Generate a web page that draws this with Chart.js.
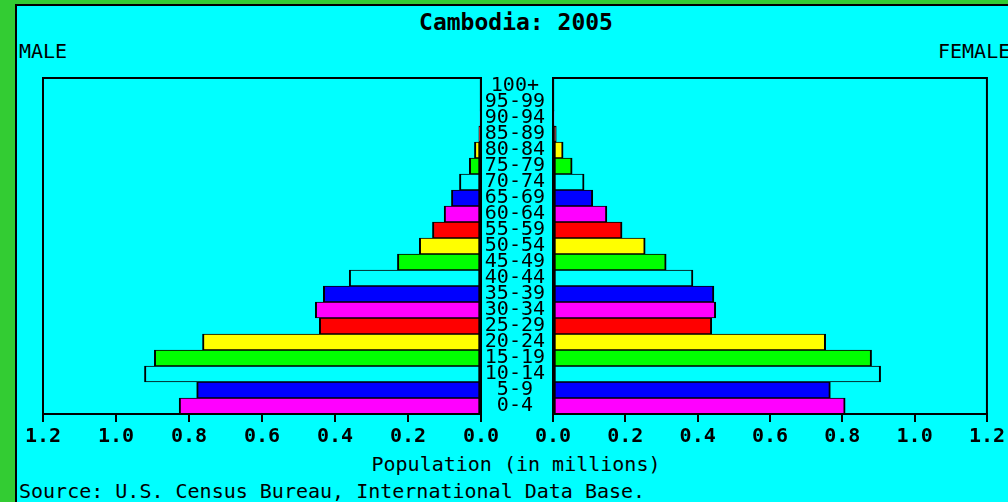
<!DOCTYPE html>
<html>
<head>
<meta charset="utf-8">
<script src="https://cdn.jsdelivr.net/npm/chart.js@4"></script>
<style>
  body { margin: 0; width: 1008px; height: 502px; background: #33cc33; overflow: hidden; position: relative; font-family: "DejaVu Sans Mono", monospace; }
  #panel { position: absolute; left: 15px; top: 4px; width: 993px; height: 498px; background: #00ffff; border-left: 2px solid #000; border-top: 2px solid #000; }
  .txt { position: absolute; color: #000; font-size: 20px; line-height: 20px; white-space: nowrap; }
  canvas { position: absolute; }
</style>
</head>
<body>
<div id="panel"></div>
<div class="txt" style="left:0;width:1032px;top:11px;text-align:center;font-size:23px;line-height:23px;font-weight:bold;">Cambodia: 2005</div>
<div class="txt" style="left:19px;top:41px;">MALE</div>
<div class="txt" style="left:938px;top:41px;">FEMALE</div>
<div class="txt" style="left:0;width:1032px;top:454px;text-align:center;">Population (in millions)</div>
<div class="txt" style="left:19px;top:481px;">Source: U.S. Census Bureau, International Data Base.</div>
<canvas id="maleChart" width="490" height="400" style="left:13px;top:70px;"></canvas>
<canvas id="femaleChart" width="526" height="412" style="left:482px;top:58px;"></canvas>
<script>
// age groups, youngest first (drawn bottom-up)
const ageGroups = ['0-4', '5-9', '10-14', '15-19', '20-24', '25-29', '30-34', '35-39', '40-44', '45-49',
    '50-54', '55-59', '60-64', '65-69', '70-74', '75-79', '80-84', '85-89', '90-94', '95-99', '100+'];

// population in millions
const maleValues = [0.827, 0.779, 0.922, 0.895, 0.763, 0.443, 0.454, 0.432, 0.361, 0.229,
    0.169, 0.133, 0.101, 0.081, 0.059, 0.032, 0.018, 0.006, 0.002, 0.001, 0.0003];
const femaleValues = [0.808, 0.767, 0.906, 0.881, 0.754, 0.439, 0.450, 0.445, 0.387, 0.313,
    0.255, 0.191, 0.149, 0.110, 0.086, 0.053, 0.028, 0.009, 0.003, 0.001, 0.0003];

const xTicks = [0, 0.2, 0.4, 0.6, 0.8, 1.0, 1.2];

const palette = ['#ff00ff', '#0000ff', '#00ffff', '#00ff00', '#ffff00', '#ff0000'];
const barColors = ageGroups.map((a, i) => palette[i % palette.length]);

const monoFont = 'DejaVu Sans Mono';

// draws the black box around each plot area
const framePlugin = {
    id: 'frame',
    afterDatasetsDraw(chart) {
        const a = chart.chartArea;
        const ctx = chart.ctx;
        ctx.save();
        ctx.strokeStyle = '#000';
        ctx.lineWidth = 2;
        ctx.strokeRect(a.left, a.top, a.right - a.left, a.bottom - a.top);
        ctx.restore();
    }
};

function xScale(reverse) {
    return {
        type: 'linear',
        reverse: reverse,
        min: 0,
        max: 1.2,
        afterBuildTicks: s => { s.ticks = xTicks.map(v => ({ value: v })); },
        afterFit: s => { s.height = 56; },
        ticks: {
            color: '#000',
            padding: 3,
            maxRotation: 0,
            font: { family: monoFont, size: 20, weight: 'bold' },
            callback: v => Number(v).toFixed(1)
        },
        grid: { drawOnChartArea: false, drawTicks: true, tickLength: 8, color: '#000', lineWidth: 2 },
        border: { display: true, color: '#000', width: 2 }
    };
}

function makeChart(id, values, side) {
    const ctx = document.getElementById(id).getContext('2d');
    const isMale = side === 'male';
    const yScale = {
        type: 'category',
        reverse: true,
        display: !isMale,
        position: 'left',
        ticks: {
            autoSkip: false,
            crossAlign: 'center',
            padding: 0,
            color: '#000',
            font: { family: monoFont, size: 20, lineHeight: 1 }
        },
        grid: { display: false },
        border: { display: false }
    };
    if (!isMale) {
        yScale.afterFit = s => { s.width = 71; };
    }
    return new Chart(ctx, {
        type: 'bar',
        data: {
            labels: ageGroups,
            datasets: [{
                data: values,
                backgroundColor: barColors,
                borderColor: '#000',
                borderWidth: { top: 1, bottom: 1, left: 2, right: 2 },
                borderSkipped: false,
                barPercentage: 1,
                categoryPercentage: 1
            }]
        },
        options: {
            indexAxis: 'y',
            responsive: false,
            animation: false,
            devicePixelRatio: 1,
            layout: {
                padding: isMale ? { left: 30, top: 8, right: 22, bottom: 0 } : { left: 0, top: 20, right: 20, bottom: 0 }
            },
            plugins: {
                legend: { display: false },
                tooltip: { enabled: false }
            },
            scales: {
                x: xScale(isMale),
                y: yScale
            }
        },
        plugins: [framePlugin]
    });
}

makeChart('maleChart', maleValues, 'male');
makeChart('femaleChart', femaleValues, 'female');
</script>
</body>
</html>
